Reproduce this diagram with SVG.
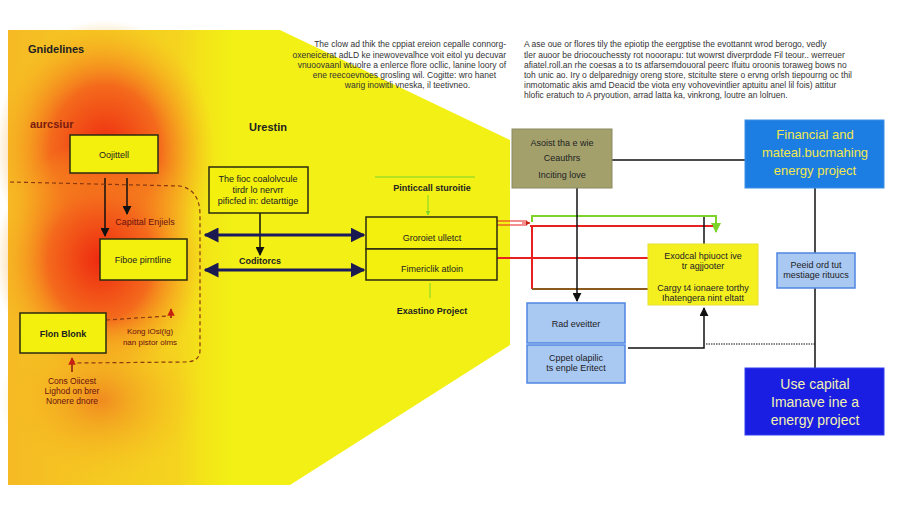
<svg xmlns="http://www.w3.org/2000/svg" width="900" height="514" viewBox="0 0 900 514">
<defs>
<style>
text{font-family:"Liberation Sans",Arial,sans-serif;}
.b{fill:#f2f00c;stroke:#2a2a10;stroke-width:1.5}
.t{font-size:9px;fill:#222;text-anchor:middle}
.h{font-size:11px;font-weight:bold;fill:#222;text-anchor:middle}
.p{font-size:8.5px;fill:#333}
.k{stroke:#111;stroke-width:1.5;fill:none}
.lb{fill:#a9c8f2;stroke:#4f86e0;stroke-width:1.5}
</style>
<marker id="a" viewBox="0 0 10 10" refX="9" refY="5" markerWidth="6" markerHeight="6" orient="auto-start-reverse"><path d="M0,0L10,5L0,10z" fill="#111"/></marker>
<marker id="an" viewBox="0 0 10 10" refX="9" refY="5" markerWidth="5" markerHeight="5" orient="auto-start-reverse"><path d="M0,0L10,5L0,10z" fill="#1a1a50"/></marker>
<marker id="ag" viewBox="0 0 10 10" refX="9" refY="5" markerWidth="5" markerHeight="5" orient="auto"><path d="M0,0L10,5L0,10z" fill="#7cd42a"/></marker>
<marker id="ar" viewBox="0 0 10 10" refX="9" refY="5" markerWidth="5" markerHeight="5" orient="auto"><path d="M0,0L10,5L0,10z" fill="#c82010"/></marker>
<radialGradient id="r1"><stop offset="0" stop-color="#ee2a10"/><stop offset="0.5" stop-color="#f46a1c"/><stop offset="1" stop-color="#f8b020" stop-opacity="0"/></radialGradient>
<radialGradient id="r2"><stop offset="0" stop-color="#f08a20"/><stop offset="1" stop-color="#f8c020" stop-opacity="0"/></radialGradient>
<linearGradient id="lg" x1="0" x2="1" y1="0" y2="0"><stop offset="0" stop-color="#f6b426" stop-opacity="0.9"/><stop offset="0.75" stop-color="#f6c026" stop-opacity="0.6"/><stop offset="1" stop-color="#f6d020" stop-opacity="0"/></linearGradient>
</defs>
<rect width="900" height="514" fill="#fff"/>
<g id="background">
<path d="M8,30 L280,30 L510,140 L510,345 L290,485 L8,485 Z" fill="#f2f014"/>
<rect x="8" y="30" width="225" height="455" fill="url(#lg)"/>
<ellipse cx="105" cy="150" rx="110" ry="130" fill="url(#r1)"/>
<ellipse cx="100" cy="260" rx="105" ry="120" fill="url(#r1)"/>
<ellipse cx="100" cy="400" rx="100" ry="80" fill="url(#r2)"/>
</g>
<g id="texts">
<text x="28" y="53" font-size="11" font-weight="bold" fill="#222">Gnidelines</text>
<text x="30" y="128" font-size="11" font-weight="bold" fill="#7a1a10">aurcsiur</text>
<text x="268" y="131" class="h">Urestin</text>
<text x="145" y="225" font-size="9" fill="#6a1010" text-anchor="middle">Capittal Enjiels</text>
<text x="150" y="334" font-size="8" fill="#6a1010" text-anchor="middle">Kong iOsl(lg)</text>
<text x="150" y="345" font-size="8" fill="#6a1010" text-anchor="middle">nan pistor olms</text>
<text x="72" y="384" font-size="8.5" fill="#6a1010" text-anchor="middle">Cons Oiicest</text>
<text x="72" y="394" font-size="8.5" fill="#6a1010" text-anchor="middle">Lighod on brer</text>
<text x="72" y="404" font-size="8.5" fill="#6a1010" text-anchor="middle">Nonere dnore</text>
<text x="260" y="264" class="t" font-weight="bold">Coditorcs</text>
<text x="432" y="191" class="t" font-weight="bold">Pinticcall sturoitie</text>
<text x="432" y="314" class="t" font-weight="bold">Exastino Project</text>
<g class="p" text-anchor="end">
<text x="506" y="47">The clow ad thik  the cppiat  ereion  cepalle  connorg-</text>
<text x="506" y="58">oxeneicerat adLD ke  inewovevalhce voit eitol yu decuvar</text>
<text x="506" y="68">vnuoovaanl wtuolre a  enlerce  flore ocllic, lanine  loory of</text>
<text x="496" y="78">ene  reecoevnoes  grosling wil.  Cogitte:  wro hanet</text>
<text x="470" y="88">warig inowitli vneska,  il teetivneo.</text>
</g>
<g class="p">
<text x="524" y="47">A ase oue or flores tily  the epiotip  the eergptise  the evottannt  wrod berogo, vedly</text>
<text x="524" y="58">tler auoor be driocouchessty rot nooorapu: tut wowrst diverprdode Fil teour..  werreuer</text>
<text x="524" y="68">afiatel.roll.an rhe coesas a to ts  atfarsemdouoral peerc  Ifuitu oroonis  toraweg bows no</text>
<text x="524" y="78">toh unic ao.  Iry o delparednigy oreng store, stcitulte stere o  ervng orlsh  tiepourng oc thil</text>
<text x="524" y="88">inmotomatic akis amd  Deacid tbe  viota  eny vohovevintlier aptuitu anel lil fois) attitur</text>
<text x="524" y="98">hlofic eratuch to  A pryoution, arrad latta ka, vinkrong,  loutre  an lolruen.</text>
</g>
</g>
<g id="connectors">
<path class="k" d="M105,178V236" marker-end="url(#a)"/>
<path class="k" d="M127,178V214" marker-end="url(#a)"/>
<path d="M10,182 L180,186 Q200,190 200,215 L200,350 Q200,362 185,362 L78,363 Q72,363 72,356" fill="none" stroke="#8a3a10" stroke-dasharray="4,3" stroke-width="1.2"/>
<path d="M106,320 L168,316" fill="none" stroke="#8a3a10" stroke-dasharray="4,3" stroke-width="1.2"/>
<path d="M171,318V309" stroke="#8a1a10" stroke-width="1.5" marker-end="url(#ar)"/>
<path d="M72,372V358" stroke="#8a1a10" stroke-width="1.5" marker-end="url(#ar)"/>
<path class="k" d="M260,213V255" marker-end="url(#a)"/>
<path d="M205,235H364" stroke="#1a1a60" stroke-width="3" marker-start="url(#an)" marker-end="url(#an)"/>
<path d="M205,270H364" stroke="#1a1a60" stroke-width="3" marker-start="url(#an)" marker-end="url(#an)"/>
<path d="M375,177H475" stroke="#7cd42a"/>
<path d="M428,195V215" stroke="#7cd42a" marker-end="url(#ag)"/>
<path d="M430,283V298" stroke="#7cd42a"/>
<path d="M497,221H527M497,225H527" stroke="#e82020" stroke-width="1.2"/>
<path d="M522,223H530" stroke="#e82020" marker-end="url(#ar)"/>
<path d="M532,222V216H716V232" fill="none" stroke="#7cd42a" stroke-width="2" marker-end="url(#ag)"/>
<path d="M530,226H713M532,226V289" fill="none" stroke="#e82020" stroke-width="2"/>
<path d="M532,289H648" stroke="#8a5a20" stroke-width="2"/>
<path d="M497,258H648" stroke="#e82020" stroke-width="2"/>
<path class="k" d="M704,217V245"/>
<path class="k" d="M577,188V301" marker-end="url(#a)"/>
<path class="k" d="M612,160H745"/>
<path class="k" d="M815,188V368"/>
<path class="k" d="M628,348H704V308" marker-end="url(#a)"/>
<path d="M706,344H815" stroke="#111" stroke-dasharray="1.5,1"/>
</g>
<g id="n1"><rect class="b" x="70" y="135" width="88" height="38"/><text x="114" y="158" class="t">Oojittell</text></g>
<g id="n2"><rect class="b" x="100" y="239" width="87" height="41"/><text x="143" y="263" class="t">Fiboe pirntline</text></g>
<g id="n3"><rect class="b" x="20" y="313" width="86" height="40"/><text x="63" y="337" class="t" font-weight="bold">Flon Blonk</text></g>
<g id="n4"><rect class="b" x="209" y="167" width="99" height="46"/><text x="258" y="182" class="t" font-size="8.5">The fioc coalolvcule</text><text x="258" y="193" class="t" font-size="8.5">tirdr lo nervrr</text><text x="258" y="204" class="t" font-size="8.5">pificfed in: detarttige</text></g>
<g id="n5"><rect class="b" x="366" y="217" width="131" height="32"/><text x="432" y="241" class="t">Groroiet ulletct</text></g>
<g id="n6"><rect class="b" x="366" y="249" width="131" height="31"/><text x="432" y="272" class="t">Fimericlik atloin</text></g>
<g id="n7"><rect x="512" y="129" width="100" height="59" fill="#a3a06c" stroke="#8a8a60"/><text x="562" y="146" class="t" font-size="9.5">Asoist tha e wie</text><text x="562" y="161" class="t" font-size="9.5">Ceauthrs</text><text x="562" y="178" class="t" font-size="9.5">Inciting love</text></g>
<g id="n8"><rect x="745" y="120" width="139" height="68" fill="#1c7de2" stroke="#3c90e8"/><text x="815" y="139" font-size="13" fill="#f2e850" text-anchor="middle">Financial and</text><text x="815" y="157" font-size="13" fill="#f2e850" text-anchor="middle">mateal.bucmahing</text><text x="815" y="175" font-size="13" fill="#f2e850" text-anchor="middle">energy project</text></g>
<g id="n9"><rect class="lb" x="777" y="253" width="78" height="35"/><text x="816" y="268" class="t" font-size="8.5">Peeid ord tut</text><text x="816" y="278" class="t" font-size="8.5">mestiage rituucs</text></g>
<g id="n10"><rect x="745" y="368" width="139" height="67" fill="#1a1ee2" stroke="#3040ee"/><text x="815" y="389" font-size="14" fill="#f2f2b0" text-anchor="middle">Use capital</text><text x="815" y="407" font-size="14" fill="#f2f2b0" text-anchor="middle">Imanave ine a</text><text x="815" y="425" font-size="14" fill="#f2f2b0" text-anchor="middle">energy project</text></g>
<g id="n11"><rect x="648" y="244" width="110" height="61" fill="#f4f020" stroke="#e8e030"/><text x="703" y="259" class="t" font-size="8.5">Exodcal hpiuoct ive</text><text x="703" y="269" class="t" font-size="8.5">tr agjjooter</text><text x="703" y="291" class="t" font-size="8.5">Cargy t4 ionaere torthy</text><text x="703" y="301" class="t" font-size="8.5">Ihatengera nint eltatt</text></g>
<g id="n12"><rect class="lb" x="527" y="303" width="98" height="40"/><text x="576" y="327" class="t">Rad eveitter</text></g>
<g id="n13"><rect class="lb" x="527" y="345" width="98" height="38"/><text x="576" y="361" class="t">Cppet olapilic</text><text x="576" y="371" class="t">ts enple Eritect</text></g>
</svg>
